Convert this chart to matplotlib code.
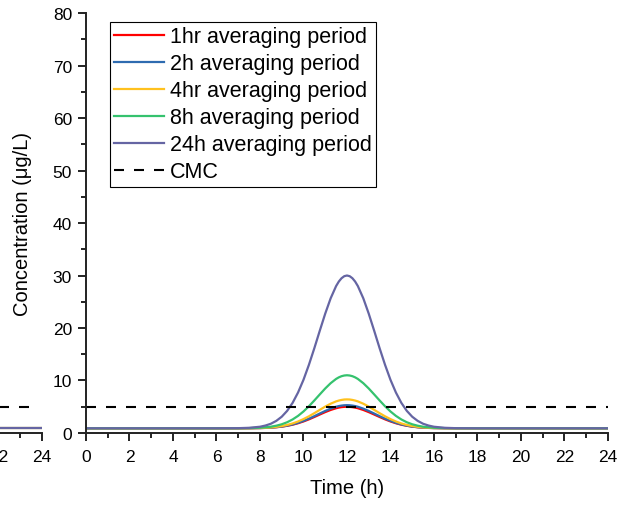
import matplotlib.pyplot as plt
from matplotlib.ticker import MultipleLocator

plt.rcParams['font.family'] = ['Liberation Sans', 'DejaVu Sans']

# time (h)
hours = [0, 2, 4, 6, 7, 7.5,
         8, 8.25, 8.5, 8.75, 9, 9.25, 9.5, 9.75, 10, 10.25, 10.5, 10.75,
         11, 11.25, 11.5, 11.625, 11.75, 11.875, 12, 12.125, 12.25, 12.375, 12.5,
         12.75, 13, 13.25, 13.5, 13.75,
         14, 14.25, 14.5, 14.75, 15, 15.25, 15.5, 15.75, 16,
         16.5, 17, 18, 20, 22, 24]

# concentration (ug/L)
conc_1hr = [0.9, 0.9, 0.9, 0.9, 0.9, 0.91,
            0.94, 0.97, 1.02, 1.10, 1.21, 1.37, 1.58, 1.86, 2.20, 2.60, 3.05, 3.52,
            3.98, 4.39, 4.72, 4.84, 4.93, 4.98, 5.00, 4.98, 4.93, 4.84, 4.72,
            4.39, 3.98, 3.52, 3.05, 2.60,
            2.20, 1.86, 1.58, 1.37, 1.21, 1.10, 1.02, 0.97, 0.94,
            0.91, 0.9, 0.9, 0.9, 0.9, 0.9]
conc_2h = [0.9, 0.9, 0.9, 0.9, 0.9, 0.91,
           0.94, 0.98, 1.03, 1.11, 1.23, 1.40, 1.63, 1.93, 2.30, 2.73, 3.21, 3.71,
           4.20, 4.64, 5.00, 5.13, 5.22, 5.28, 5.30, 5.28, 5.22, 5.13, 5.00,
           4.64, 4.20, 3.71, 3.21, 2.73,
           2.30, 1.93, 1.63, 1.40, 1.23, 1.11, 1.03, 0.98, 0.94,
           0.91, 0.9, 0.9, 0.9, 0.9, 0.9]
conc_4hr = [0.9, 0.9, 0.9, 0.9, 0.9, 0.92,
            0.96, 1.00, 1.06, 1.17, 1.32, 1.53, 1.82, 2.19, 2.65, 3.18, 3.78, 4.41,
            5.03, 5.58, 6.02, 6.18, 6.30, 6.38, 6.40, 6.38, 6.30, 6.18, 6.02,
            5.58, 5.03, 4.41, 3.78, 3.18,
            2.65, 2.19, 1.82, 1.53, 1.32, 1.17, 1.06, 1.00, 0.96,
            0.92, 0.9, 0.9, 0.9, 0.9, 0.9]
conc_8h = [0.9, 0.9, 0.9, 0.9, 0.91, 0.93,
           1.00, 1.08, 1.20, 1.39, 1.66, 2.05, 2.58, 3.26, 4.10, 5.09, 6.20, 7.35,
           8.48, 9.49, 10.30, 10.60, 10.82, 10.95, 11.00, 10.95, 10.82, 10.60, 10.30,
           9.49, 8.48, 7.35, 6.20, 5.09,
           4.10, 3.26, 2.58, 2.05, 1.66, 1.39, 1.20, 1.08, 1.00,
           0.93, 0.91, 0.9, 0.9, 0.9, 0.9]
conc_24h = [0.9, 0.9, 0.9, 0.9, 0.92, 0.99,
            1.19, 1.42, 1.76, 2.31, 3.10, 4.22, 5.74, 7.71, 10.13, 12.99, 16.16, 19.49,
            22.74, 25.66, 27.99, 28.85, 29.48, 29.87, 30.00, 29.87, 29.48, 28.85, 27.99,
            25.66, 22.74, 19.49, 16.16, 12.99,
            10.13, 7.71, 5.74, 4.22, 3.10, 2.31, 1.76, 1.42, 1.19,
            0.99, 0.92, 0.9, 0.9, 0.9, 0.9]

cmc_hours = [0, 24]
cmc = [5, 5]

# neighbouring panel, only its right end shows
left_hours = [0, 24]
left_conc = [0.9, 0.9]
left_cmc_hours = [0, 23.5]

labels = ['1hr averaging period', '2h averaging period', '4hr averaging period',
          '8h averaging period', '24h averaging period']
series = [conc_1hr, conc_2h, conc_4hr, conc_8h, conc_24h]
colors = ['#FF0000', '#2E6BB0', '#FFC11E', '#35C26E', '#6565A3']

fig = plt.figure(figsize=(6.24, 5.06), dpi=100)


def style_axes(ax):
    ax.set_xlim(0, 24)
    ax.set_ylim(0, 80)
    ax.spines['top'].set_visible(False)
    ax.spines['right'].set_visible(False)
    for s in ['left', 'bottom']:
        ax.spines[s].set_linewidth(1.4)
        ax.spines[s].set_color('#222222')
    ax.xaxis.set_major_locator(MultipleLocator(2))
    ax.xaxis.set_minor_locator(MultipleLocator(1))
    ax.yaxis.set_major_locator(MultipleLocator(10))
    ax.yaxis.set_minor_locator(MultipleLocator(5))
    ax.tick_params(which='major', direction='out', length=6, width=1.4,
                   labelsize=12.5, color='#222222', pad=4)
    ax.tick_params(axis='x', which='major', pad=5.5)
    ax.tick_params(which='minor', direction='out', length=3.5, width=1.4,
                   color='#222222')


# left (cut off) panel
axl = fig.add_axes([0.0673 - 0.8365, 0.1423, 0.8365, 0.830])
style_axes(axl)
for c in colors:
    axl.plot(left_hours, left_conc, color=c, lw=1.5)
axl.plot(left_cmc_hours, cmc, color='black', lw=1.5, linestyle=(0, (4.8, 4.8)))

# main panel
ax = fig.add_axes([0.1378, 0.1423, 0.8365, 0.830])
style_axes(ax)
for conc, lab, c in zip(series, labels, colors):
    ax.plot(hours, conc, color=c, lw=1.6, label=lab)
ax.plot(cmc_hours, cmc, color='black', lw=1.5, linestyle=(0, (4.8, 4.8)), label='CMC')

ax.set_xlabel('Time (h)', fontsize=14.5, labelpad=10)
ax.set_ylabel('Concentration (\u03bcg/L)', fontsize=14.5, labelpad=15)

leg = ax.legend(loc='upper left', bbox_to_anchor=(0.046, 0.979), borderaxespad=0,
                fontsize=15.5, frameon=True, fancybox=False, framealpha=1,
                edgecolor='black', handlelength=2.3, handletextpad=0.3,
                labelspacing=0.28, borderpad=0.2)
leg.get_frame().set_linewidth(0.8)

fig.savefig('out.png', dpi=100)
